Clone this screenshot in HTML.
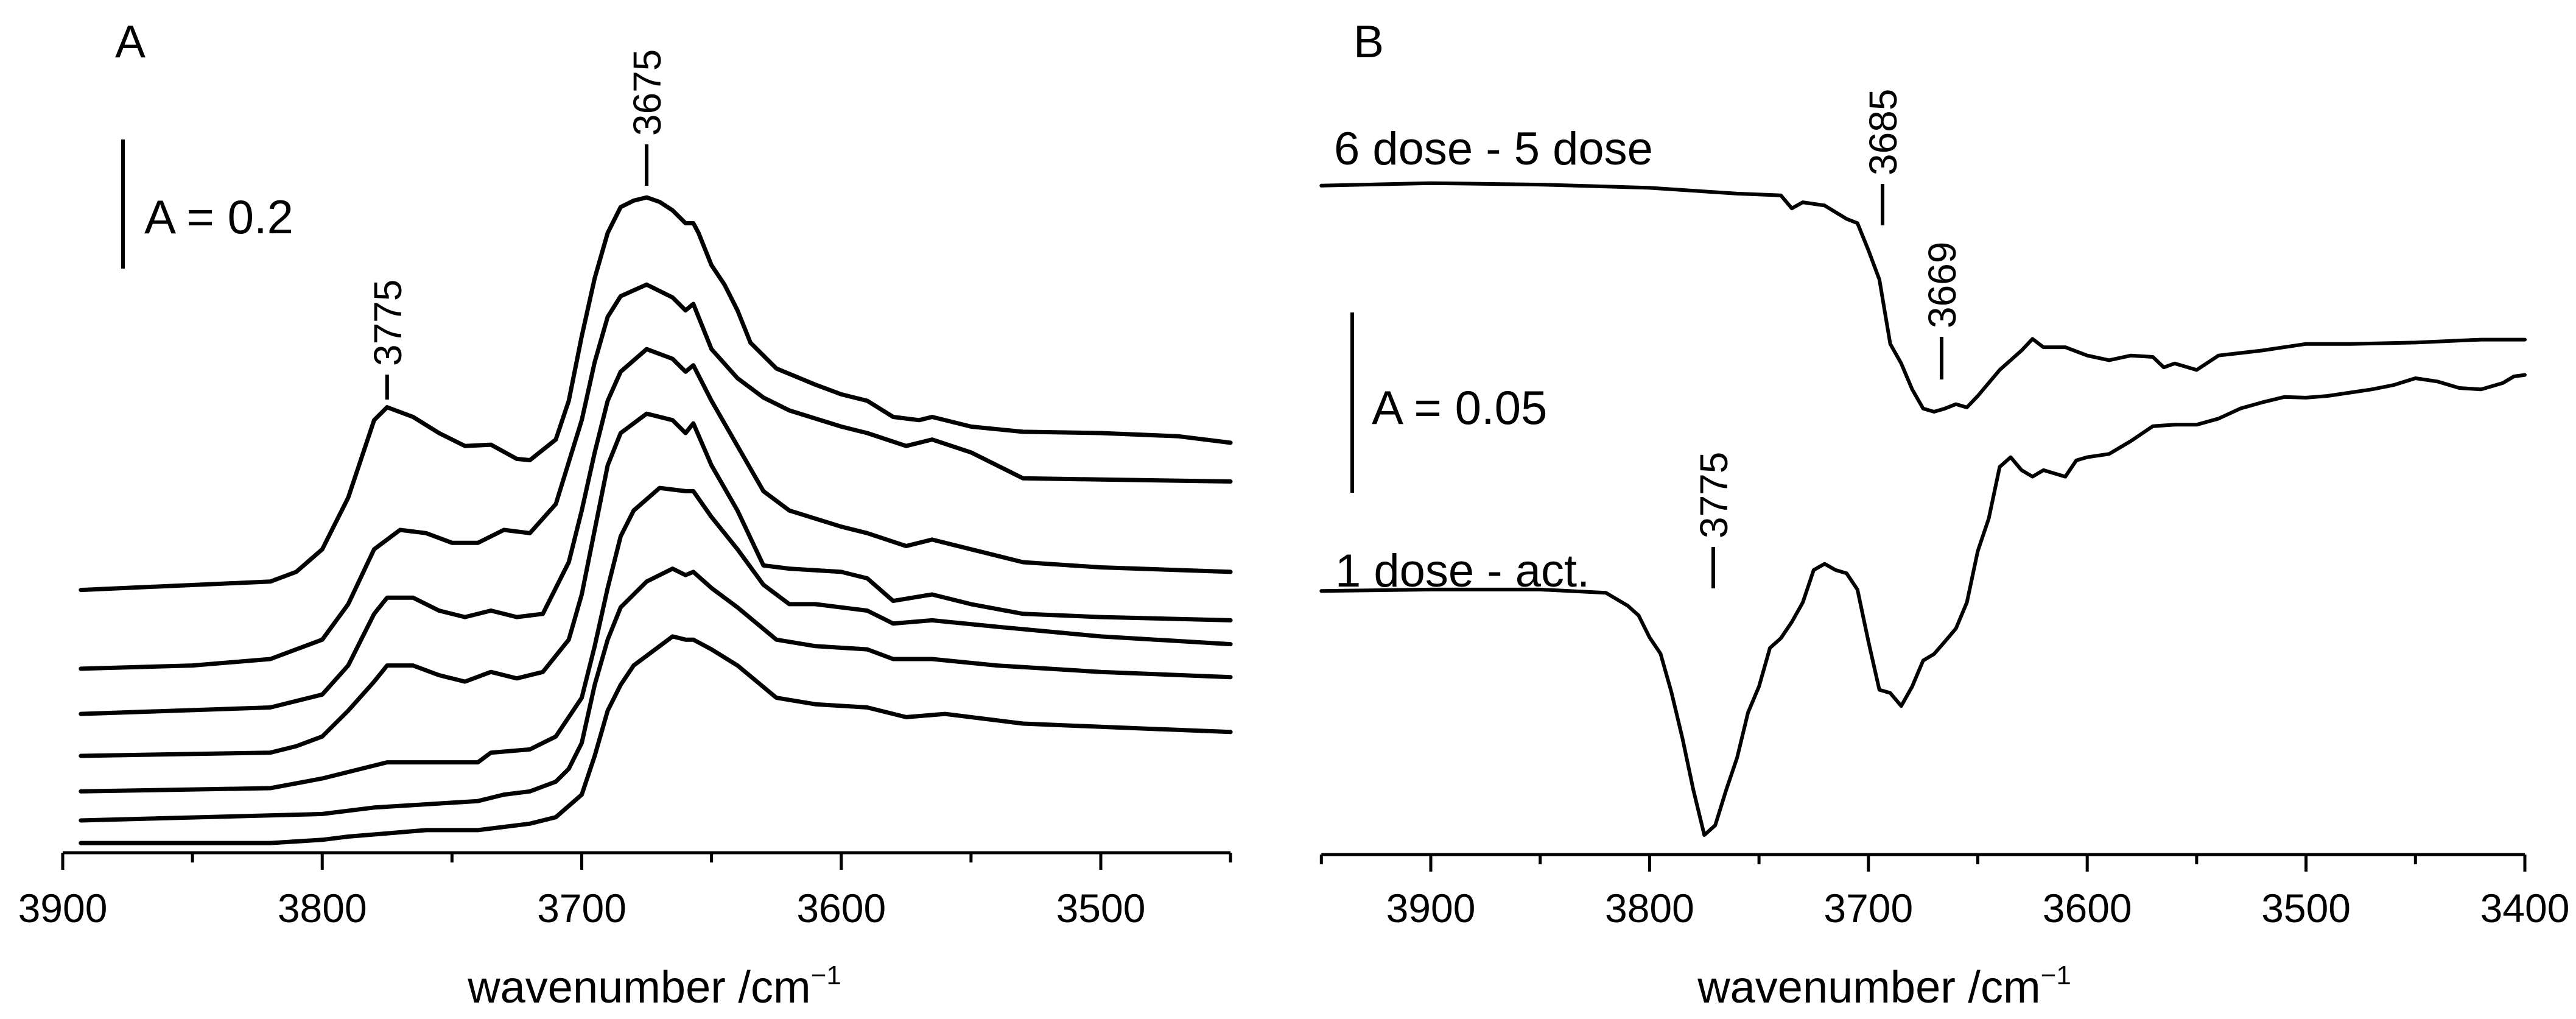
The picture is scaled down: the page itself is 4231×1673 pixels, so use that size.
<!DOCTYPE html>
<html><head><meta charset="utf-8"><style>
html,body{margin:0;padding:0;background:#fff;}
svg{display:block;font-family:"Liberation Sans",Arial,sans-serif;}
</style></head><body>
<svg id="fig" width="4231" height="1673" viewBox="0 0 4231 1673" xmlns="http://www.w3.org/2000/svg">
<g id="panelA"></g>
<g id="panelB"></g>
</svg>
<script>
// ---- Panel A data (wavenumber, absorbance above axis) ----
const aWave1=[3893,3820,3810,3800,3790,3780,3775,3765,3755,3745,3735,3725,3720,3710,3705,3700,3695,3690,3685,3680,3675,3670,3665,3660,3657,3655,3650,3645,3640,3635,3625,3610,3600,3590,3580,3570,3565,3550,3530,3500,3470,3450];
const aVal1=[0.407,0.420,0.435,0.470,0.550,0.670,0.690,0.675,0.650,0.630,0.632,0.610,0.608,0.640,0.700,0.800,0.890,0.960,1.000,1.010,1.015,1.008,0.995,0.975,0.975,0.960,0.910,0.880,0.840,0.790,0.750,0.725,0.710,0.700,0.675,0.670,0.675,0.660,0.652,0.650,0.645,0.635];
const aWave2=[3893,3850,3820,3800,3790,3780,3770,3760,3750,3740,3735,3730,3720,3710,3700,3695,3690,3685,3675,3665,3660,3657,3650,3640,3630,3620,3600,3590,3575,3565,3550,3530,3500,3450];
const aVal2=[0.285,0.290,0.300,0.330,0.385,0.470,0.500,0.495,0.480,0.480,0.490,0.500,0.495,0.540,0.670,0.760,0.830,0.862,0.880,0.860,0.840,0.850,0.780,0.735,0.705,0.685,0.660,0.650,0.630,0.640,0.620,0.580,0.578,0.575];
const aWave3=[3893,3820,3800,3790,3780,3775,3765,3755,3745,3735,3725,3715,3705,3700,3695,3690,3685,3675,3665,3660,3657,3650,3640,3630,3620,3600,3590,3575,3565,3550,3530,3500,3450];
const aVal3=[0.215,0.225,0.245,0.290,0.370,0.395,0.395,0.375,0.365,0.375,0.365,0.370,0.450,0.530,0.620,0.700,0.745,0.780,0.765,0.745,0.755,0.700,0.630,0.560,0.530,0.505,0.495,0.475,0.485,0.470,0.450,0.442,0.435];
const aWave4=[3893,3820,3810,3800,3790,3780,3775,3765,3755,3745,3735,3725,3715,3705,3700,3695,3690,3685,3675,3665,3660,3657,3650,3640,3630,3620,3600,3590,3580,3565,3550,3530,3500,3450];
const aVal4=[0.150,0.155,0.165,0.180,0.220,0.265,0.290,0.290,0.275,0.265,0.280,0.270,0.280,0.330,0.400,0.500,0.600,0.650,0.680,0.670,0.650,0.665,0.600,0.530,0.445,0.440,0.435,0.425,0.390,0.400,0.385,0.370,0.365,0.360];
const aWave5=[3893,3820,3800,3790,3775,3760,3740,3735,3720,3710,3700,3695,3690,3685,3680,3670,3660,3657,3650,3640,3630,3620,3610,3590,3580,3565,3540,3500,3450];
const aVal5=[0.095,0.100,0.115,0.125,0.140,0.140,0.140,0.155,0.160,0.180,0.240,0.320,0.410,0.490,0.530,0.565,0.560,0.560,0.520,0.470,0.415,0.385,0.385,0.375,0.355,0.360,0.350,0.335,0.323];
const aWave6=[3893,3800,3780,3760,3740,3730,3720,3710,3705,3700,3695,3690,3685,3675,3665,3660,3657,3650,3640,3625,3610,3590,3580,3565,3540,3500,3450];
const aVal6=[0.050,0.060,0.070,0.075,0.080,0.090,0.095,0.110,0.130,0.170,0.260,0.330,0.380,0.420,0.440,0.430,0.435,0.410,0.380,0.330,0.320,0.315,0.300,0.300,0.290,0.280,0.272];
const aWave7=[3893,3820,3800,3790,3775,3760,3740,3730,3720,3710,3700,3695,3690,3685,3680,3670,3665,3660,3657,3650,3640,3625,3610,3590,3575,3560,3530,3500,3450];
const aVal7=[0.015,0.015,0.020,0.025,0.030,0.035,0.035,0.040,0.045,0.055,0.090,0.150,0.220,0.260,0.290,0.320,0.335,0.330,0.330,0.315,0.290,0.240,0.230,0.225,0.210,0.215,0.200,0.195,0.187];
const aTicks=[3900,3800,3700,3600,3500];
const aTickLabels=["3900","3800","3700","3600","3500"];

// ---- Panel B data (wavenumber, mA above axis) ----
const bWaveTop=[3950,3900,3850,3800,3760,3740,3735,3730,3720,3710,3705,3700,3695,3690,3685,3680,3675,3670,3665,3660,3655,3650,3640,3630,3625,3620,3610,3600,3590,3580,3570,3565,3560,3550,3540,3520,3500,3480,3450,3420,3400];
const bValTop=[185.5,186.2,185.8,184.9,183.3,182.8,179.2,180.9,180,176.3,175.1,167.6,159.5,141.6,136.2,129,123.7,122.8,123.7,124.9,124,127.2,134.4,139.8,143,140.7,140.7,138.4,137.1,138.4,138,135.1,136.2,134.4,138.4,139.8,141.6,141.6,142,142.8,142.8];
const bWaveBot=[3950,3900,3850,3820,3810,3805,3800,3795,3790,3785,3780,3775,3770,3765,3760,3755,3750,3745,3740,3735,3730,3725,3720,3715,3710,3705,3700,3695,3690,3685,3680,3675,3670,3665,3660,3655,3650,3645,3640,3635,3630,3625,3620,3610,3605,3600,3590,3580,3570,3560,3550,3540,3530,3520,3510,3500,3490,3480,3470,3460,3450,3440,3430,3420,3410,3405,3400];
const bValBot=[73.1,73.5,73.5,72.6,69.0,66.3,60.2,55.7,45.0,32.3,17.9,5.4,8.1,17.9,26.9,39.4,46.6,57.3,60.0,64.5,69.9,78.9,80.6,78.9,78.0,73.5,59.1,45.7,44.8,41.2,46.6,53.8,55.6,59.1,62.7,69.9,84.2,93.2,107.5,110.2,106.6,104.8,106.6,104.8,109.3,110.2,111.1,114.7,118.8,119.2,119.2,120.9,123.7,125.4,126.9,126.7,127.2,128.1,129.0,130.2,132.1,131.2,129.4,129.0,130.8,132.6,133.0];
const bTicks=[3900,3800,3700,3600,3500,3400];
const bTickLabels=["3900","3800","3700","3600","3500","3400"];

const NS="http://www.w3.org/2000/svg";
function mk(parent,tag,attrs){const e=document.createElementNS(NS,tag);for(const k in attrs)e.setAttribute(k,attrs[k]);parent.appendChild(e);return e;}

// axis functions
const axA={x:w=>103+(3900-w)*4.2625, y:v=>1400-v*1060, y0:1400, xmin:3900, xmax:3450, cx:1075};
const axB={x:w=>2350+(3900-w)*3.594, y:v=>1403-v*5.92, y0:1403, xmin:3950, xmax:3400, cx:3095};

function drawAxis(g,ax,ticks,labels,prefix){
  const l=mk(g,'line',{x1:ax.x(ax.xmin),x2:ax.x(ax.xmax),y1:ax.y0,y2:ax.y0,stroke:'#000','stroke-width':5});
  
  
  for(let w=Math.ceil(ax.xmax/50)*50; w<=ax.xmin; w+=50){
    const major=(w%100===0);
    const t=mk(g,'line',{x1:ax.x(w),x2:ax.x(w),y1:ax.y0,y2:ax.y0+(major?28:16),stroke:'#000','stroke-width':5});
    
    
  }
  ticks.forEach((w,i)=>{
    const tx=mk(g,'text',{x:ax.x(w),y:1514,'font-size':66,'text-anchor':'middle'});
    tx.textContent=labels[i];
    
    
  });
  const tt=mk(g,'text',{x:ax.cx,y:1646,'font-size':74,'text-anchor':'middle'});
  tt.innerHTML='wavenumber /cm<tspan dy="-30" font-size="44">−1</tspan>';
  
  
}
function drawCurve(g,ax,ws,vs,name,sw){
  const d=ws.map((w,i)=>(i?'L':'M')+ax.x(w).toFixed(1)+' '+ax.y(vs[i]).toFixed(1)).join(' ');
  const p=mk(g,'path',{d:d,fill:'none',stroke:'#000','stroke-width':sw,'stroke-linejoin':'round','stroke-linecap':'round'});
  
  
}
function marker(g,x,y1,y2,label,name){
  const l=mk(g,'line',{x1:x,x2:x,y1:y1,y2:y2,stroke:'#000','stroke-width':6});
  
  
  const t=mk(g,'text',{x:0,y:0,'font-size':64,transform:`translate(${x+23},${y1-14}) rotate(-90)`});
  t.textContent=label;
  
  
}
function text(g,x,y,s,size,name){
  const t=mk(g,'text',{x:x,y:y,'font-size':size});
  t.textContent=s;
  
  
}

const gA=document.getElementById('panelA');
drawAxis(gA,axA,aTicks,aTickLabels,'panel-a');
[[aWave1,aVal1],[aWave2,aVal2],[aWave3,aVal3],[aWave4,aVal4],[aWave5,aVal5],[aWave6,aVal6],[aWave7,aVal7]].forEach((s,i)=>drawCurve(gA,axA,s[0],s[1],'spectrum-'+(i+1),7));
text(gA,189,94,'A',75,'panel-a-letter');
const sbA=mk(gA,'line',{x1:202,x2:202,y1:229,y2:229+0.2*1060,stroke:'#000','stroke-width':6});


text(gA,237,383,'A = 0.2',78,'panel-a-scale-label');
marker(gA,axA.x(3775),615,656,'3775','peak-3775-a');
marker(gA,axA.x(3675),237,305,'3675','peak-3675');

const gB=document.getElementById('panelB');
drawAxis(gB,axB,bTicks,bTickLabels,'panel-b');
drawCurve(gB,axB,bWaveTop,bValTop,'difference-6-5-dose',6);
drawCurve(gB,axB,bWaveBot,bValBot,'difference-1-dose-act',6);
text(gB,2223,94,'B',75,'panel-b-letter');
const sbB=mk(gB,'line',{x1:2221,x2:2221,y1:513,y2:513+50*5.92,stroke:'#000','stroke-width':6});


text(gB,2253,696,'A = 0.05',78,'panel-b-scale-label');
text(gB,2191,270,'6 dose - 5 dose',76,'label-6-dose-5-dose');
text(gB,2193,963,'1 dose - act.',76,'label-1-dose-act');
marker(gB,3092,302,370,'3685','peak-3685');
marker(gB,3189,553,623,'3669','peak-3669');
marker(gB,2814,898,966,'3775','peak-3775-b');
</script>
</body></html>
